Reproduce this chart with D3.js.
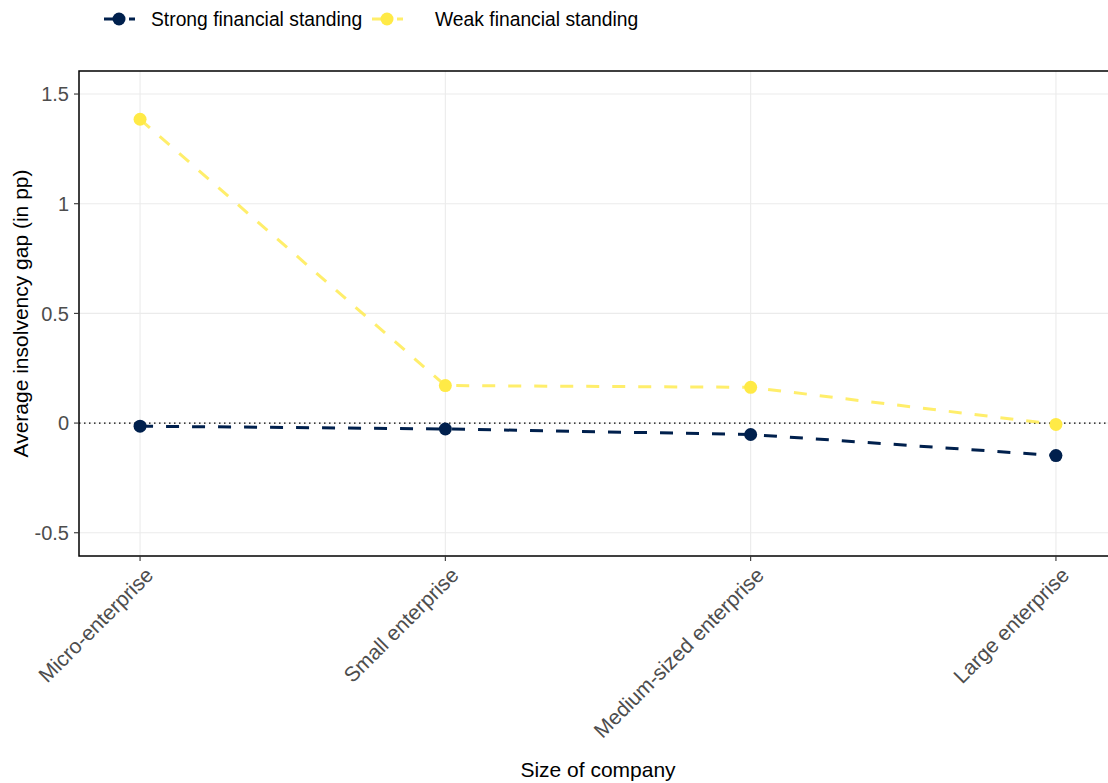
<!DOCTYPE html>
<html><head><meta charset="utf-8">
<script src="https://cdn.jsdelivr.net/npm/d3@7"></script>
<style>body{margin:0;background:#fff}svg{display:block}text{font-family:"Liberation Sans",Arial,sans-serif}</style>
</head><body>
<svg id="c" width="1108" height="783"></svg>
<script>
const categories = ["Micro-enterprise","Small enterprise","Medium-sized enterprise","Large enterprise"];
const seriesNames = ["Strong financial standing","Weak financial standing"];
const strongValues = [-0.014, -0.027, -0.052, -0.148];
const weakValues = [1.385, 0.171, 0.163, -0.006];
const yTicks = [-0.5, 0, 0.5, 1, 1.5];
const yTickLabels = ["-0.5","0","0.5","1","1.5"];
const colors = ["#00204D","#FFEA46"];

const svg = d3.select("#c");
const L = 79, T = 71, R = 1117, B = 556;
const x = d3.scalePoint().domain(categories).range([L, R]).padding(0.2);
const y = d3.scaleLinear().domain([-0.606, 1.605]).range([B, T]);

svg.append("defs").append("clipPath").attr("id","pc").append("rect")
  .attr("x",L).attr("y",T).attr("width",R-L).attr("height",B-T);

const g = svg.append("g");
// grid
g.selectAll(".hg").data(yTicks).join("line").attr("x1",L).attr("x2",R)
  .attr("y1",d=>y(d)).attr("y2",d=>y(d)).attr("stroke","#EBEBEB").attr("stroke-width",1.1);
g.selectAll(".vg").data(categories).join("line").attr("y1",T).attr("y2",B)
  .attr("x1",d=>x(d)).attr("x2",d=>x(d)).attr("stroke","#EBEBEB").attr("stroke-width",1.1);

// zero line
g.append("line").attr("x1",L).attr("x2",R).attr("y1",y(0)).attr("y2",y(0))
  .attr("stroke","#000").attr("stroke-width",1.3).attr("stroke-dasharray","1.5 3.5");

const series = [strongValues, weakValues];
const line = d3.line().x((d,i)=>x(categories[i])).y(d=>y(d));
const plot = g.append("g").attr("clip-path","url(#pc)");
[1,0].forEach(s=>{
  plot.append("path").datum(series[s]).attr("d",line).attr("fill","none")
    .attr("stroke",colors[s]).attr("stroke-width",3).attr("stroke-dasharray","13 13")
    .attr("opacity", s===1?0.8:1);
});
[1,0].forEach(s=>{
  plot.selectAll(".p"+s).data(series[s]).join("circle")
    .attr("cx",(d,i)=>x(categories[i])).attr("cy",d=>y(d)).attr("r",6.5).attr("fill",colors[s]);
});

// border
g.append("rect").attr("x",L).attr("y",T).attr("width",R-L).attr("height",B-T)
  .attr("fill","none").attr("stroke","#000").attr("stroke-width",1.5);

// y axis ticks/labels
g.selectAll(".yt").data(yTicks).join("line").attr("x1",L-5).attr("x2",L)
  .attr("y1",d=>y(d)).attr("y2",d=>y(d)).attr("stroke","#333").attr("stroke-width",1.1);
g.selectAll(".yl").data(yTicks).join("text").attr("x",L-10).attr("y",d=>y(d))
  .attr("dy","0.36em").attr("text-anchor","end").attr("font-size",20).attr("fill","#4D4D4D")
  .text((d,i)=>yTickLabels[i]);

// x ticks/labels
g.selectAll(".xt").data(categories).join("line").attr("y1",B).attr("y2",B+5)
  .attr("x1",d=>x(d)).attr("x2",d=>x(d)).attr("stroke","#333").attr("stroke-width",1.1);
g.selectAll(".xl").data(categories).join("text")
  .attr("transform",d=>`translate(${x(d)+4},${B+10}) rotate(-45)`)
  .attr("dy","0.71em").attr("text-anchor","end").attr("font-size",21).attr("fill","#4D4D4D")
  .text(d=>d);

// titles
svg.append("text").attr("x",(L+R)/2).attr("y",777).attr("text-anchor","middle")
  .attr("font-size",21).attr("fill","#000").text("Size of company");
svg.append("text").attr("transform",`translate(28,${(T+B)/2}) rotate(-90)`)
  .attr("text-anchor","middle").attr("font-size",21).attr("fill","#000").text("Average insolvency gap (in pp)");

// legend
const legX = [104, 372], legTX = [151, 435], legY = 19;
seriesNames.forEach((n,s)=>{
  svg.append("line").attr("x1",legX[s]).attr("x2",legX[s]+31).attr("y1",legY).attr("y2",legY)
    .attr("stroke",colors[s]).attr("stroke-width",3).attr("stroke-dasharray","12 13")
    .attr("opacity", s===1?0.8:1);
  svg.append("circle").attr("cx",legX[s]+15).attr("cy",legY).attr("r",6.5).attr("fill",colors[s]);
  svg.append("text").attr("x",legTX[s]).attr("y",legY).attr("dy","0.35em").attr("font-size",19.3)
    .attr("fill","#000").text(n);
});
</script>
</body></html>
